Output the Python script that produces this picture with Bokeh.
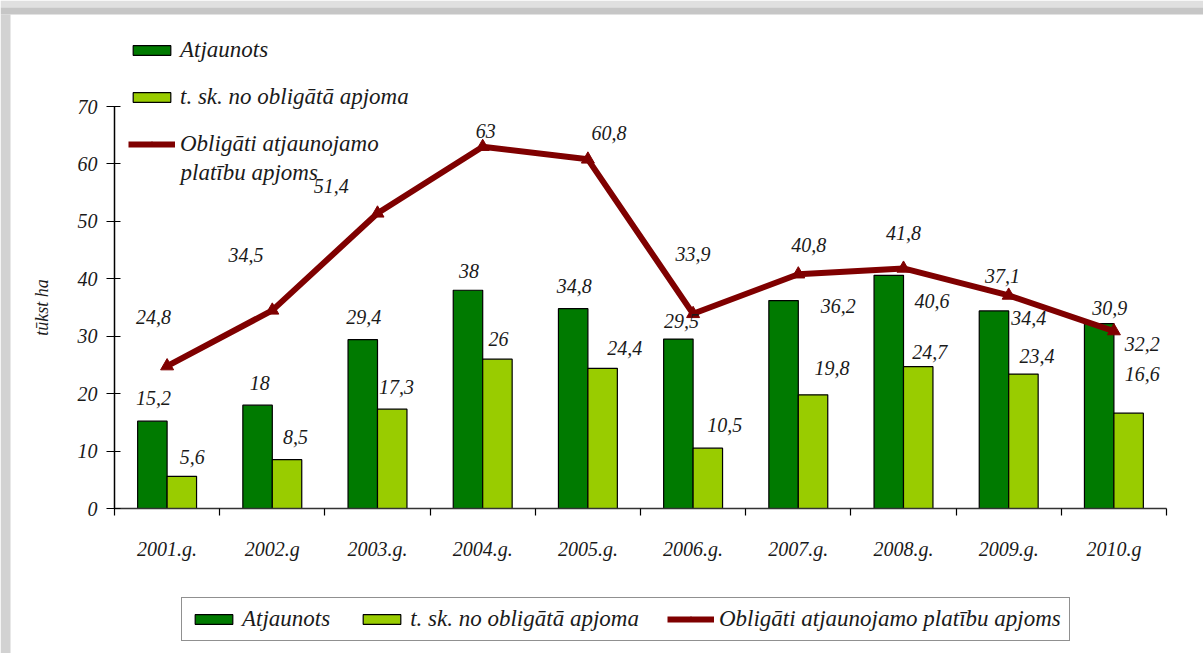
from bokeh.plotting import figure
from bokeh.models import (Range1d, FixedTicker, Legend, LegendItem,
                          ColumnDataSource, Label, BoxAnnotation)
from bokeh.core.properties import value
from bokeh.embed import file_html
from bokeh.resources import INLINE

# ---- data ----
years = ["2001.g.", "2002.g", "2003.g.", "2004.g.", "2005.g.",
         "2006.g.", "2007.g.", "2008.g.", "2009.g.", "2010.g"]
atjaunots = [15.2, 18, 29.4, 38, 34.8, 29.5, 36.2, 40.6, 34.4, 32.2]
no_oblig = [5.6, 8.5, 17.3, 26, 24.4, 10.5, 19.8, 24.7, 23.4, 16.6]
oblig = [24.8, 34.5, 51.4, 63, 60.8, 33.9, 40.8, 41.8, 37.1, 30.9]
y_ticks = [0, 10, 20, 30, 40, 50, 60, 70]

name_a = "Atjaunots"
name_b = "t. sk. no obligātā apjoma"
name_c = "Obligāti atjaunojamo platību apjoms"
name_c1 = "Obligāti atjaunojamo"
name_c2 = "platību apjoms"

# ---- label placement (offsets from category centre, in category / value units) ----
line_dx = [-0.13, -0.25, -0.44, 0.03, 0.2, 0.0, 0.1, 0.0, -0.06, -0.04]
line_dy = [8.5, 9.6, 4.8, 2.8, 4.5, 10.5, 5.0, 6.1, 3.3, 4.1]
a_dx = [-0.13, -0.12, -0.13, -0.13, -0.13, -0.11, 0.38, 0.27, 0.19, 0.27]
a_dy = [4.0, 3.8, 4.0, 3.4, 4.0, 3.2, -0.9, -4.4, -1.3, -3.5]
b_dx = [0.24, 0.22, 0.18, 0.15, 0.35, 0.30, 0.32, 0.25, 0.27, 0.27]
b_dy = [3.3, 4.0, 3.8, 3.6, 3.5, 4.0, 4.6, 2.5, 3.2, 6.9]

DARK = "#007A00"
LIGHT = "#99CC00"
RED = "#7F0000"
FONT = "Liberation Serif"
TXT = "#1a1a1a"

W, H = 1203, 653
n = len(years)
YMAX = 70
# pixel layout of the plotting area (axis origin and extent)
X0_PX, X1_PX = 114, 1166
Y0_PX, Y1_PX = 508, 106
cat_px = (X1_PX - X0_PX) / n
val_px = (Y0_PX - Y1_PX) / YMAX

centers = [i + 0.5 for i in range(n)]
bw = 0.28


def fmt(v):
    return ("%g" % v).replace(".", ",")


src = ColumnDataSource(dict(
    x=centers,
    xa=[c - bw / 2 for c in centers],
    xb=[c + bw / 2 for c in centers],
    a=atjaunots, b=no_oblig, c=oblig,
))

p = figure(width=W, height=H, output_backend="svg", toolbar_location=None,
           x_range=Range1d(-X0_PX / cat_px, (W - X0_PX) / cat_px),
           y_range=Range1d(-(H - Y0_PX) / val_px, Y0_PX / val_px),
           min_border=0)
p.outline_line_color = None
p.grid.grid_line_color = None
p.background_fill_color = "white"
p.border_fill_color = "white"

# soft frame shadow along the top and left edges
p.add_layout(BoxAnnotation(bottom=H - 7, bottom_units="screen", fill_color="#e0e0e0",
                           fill_alpha=1, line_color=None, level="underlay"))
p.add_layout(BoxAnnotation(bottom=H - 14, top=H - 7, bottom_units="screen", top_units="screen",
                           fill_color="#c6c6c6", fill_alpha=1, line_color=None, level="underlay"))
p.add_layout(BoxAnnotation(right=10, right_units="screen", top=H - 14, top_units="screen",
                           fill_color="#d2d2d2", fill_alpha=1, line_color=None, level="underlay"))

b1 = p.vbar(x="xa", top="a", width=bw, source=src, fill_color=DARK,
            line_color="black", line_width=1.2)
b2 = p.vbar(x="xb", top="b", width=bw, source=src, fill_color=LIGHT,
            line_color="black", line_width=1.2)
ln = p.line(x="x", y="c", source=src, line_color=RED, line_width=6)
sc = p.scatter(x="x", y="c", source=src, marker="triangle", size=13,
               fill_color=RED, line_color=RED)


def add_labels(vals, dx, dy):
    s = ColumnDataSource(dict(
        x=[centers[i] + dx[i] for i in range(n)],
        y=[vals[i] + dy[i] for i in range(n)],
        t=[fmt(v) for v in vals]))
    p.text(x="x", y="y", text="t", source=s, text_align="center",
           text_baseline="middle", text_font=value(FONT),
           text_font_style="italic", text_font_size="20px", text_color=TXT)


add_labels(oblig, line_dx, line_dy)
add_labels(atjaunots, a_dx, a_dy)
add_labels(no_oblig, b_dx, b_dy)

# axes (fixed at the data origin)
xa = p.xaxis[0]
xa.fixed_location = 0
xa.bounds = (0, n)
xa.ticker = FixedTicker(ticks=centers, minor_ticks=list(range(n + 1)))
xa.major_label_overrides = {c: years[i] for i, c in enumerate(centers)}
xa.major_tick_out = 0
xa.major_tick_in = 0
xa.minor_tick_out = 7
xa.minor_tick_in = 0
xa.minor_tick_line_color = "black"
xa.minor_tick_line_width = 1.2
xa.axis_line_color = "#333333"
xa.axis_line_width = 1.5
xa.major_label_standoff = 22
xa.major_label_text_font = FONT
xa.major_label_text_font_style = "italic"
xa.major_label_text_font_size = "20px"
xa.major_label_text_color = TXT

ya = p.yaxis[0]
ya.fixed_location = 0
ya.bounds = (0, YMAX)
ya.ticker = FixedTicker(ticks=y_ticks)
ya.major_tick_out = 8
ya.major_tick_in = 6
ya.minor_tick_line_color = None
ya.major_tick_line_color = "black"
ya.major_tick_line_width = 1.2
ya.axis_line_color = "black"
ya.axis_line_width = 1.5
ya.major_label_standoff = 9
ya.major_label_text_font = FONT
ya.major_label_text_font_style = "italic"
ya.major_label_text_font_size = "20px"
ya.major_label_text_color = TXT
ya.axis_label = "tūkst ha"
ya.axis_label_text_font = FONT
ya.axis_label_text_font_style = "italic"
ya.axis_label_text_font_size = "18px"
ya.axis_label_text_color = TXT
ya.axis_label_standoff = 23


def style_legend(lg):
    lg.label_text_font = FONT
    lg.label_text_font_style = "italic"
    lg.label_text_font_size = "23px"
    lg.label_text_color = TXT
    lg.glyph_width = 47
    lg.glyph_height = 12
    lg.label_standoff = 5


leg1 = Legend(items=[
    LegendItem(label=name_a, renderers=[b1]),
    LegendItem(label=name_b, renderers=[b2]),
    LegendItem(label=name_c1, renderers=[ln, sc]),
], location=(128, H - 157), orientation="vertical")
style_legend(leg1)
leg1.spacing = 21
leg1.padding = 0
leg1.margin = 0
leg1.border_line_color = None
leg1.background_fill_alpha = 0
p.add_layout(leg1)

p.add_layout(Label(x=180, y=H - 172, x_units="screen", y_units="screen",
                   text=name_c2, text_font=FONT, text_font_style="italic",
                   text_font_size="23px", text_color=TXT,
                   text_baseline="middle", text_align="left"))

leg2 = Legend(items=[
    LegendItem(label=name_a, renderers=[b1]),
    LegendItem(label=name_b, renderers=[b2]),
    LegendItem(label=name_c, renderers=[ln, sc]),
], location=(181, H - 641), orientation="horizontal")
style_legend(leg2)
leg2.spacing = 28
leg2.padding = 8
leg2.margin = 0
leg2.border_line_color = "#222222"
leg2.border_line_width = 1.5
leg2.background_fill_color = "white"
leg2.background_fill_alpha = 1
p.add_layout(leg2)

open("out.html", "w").write(file_html(p, INLINE))
